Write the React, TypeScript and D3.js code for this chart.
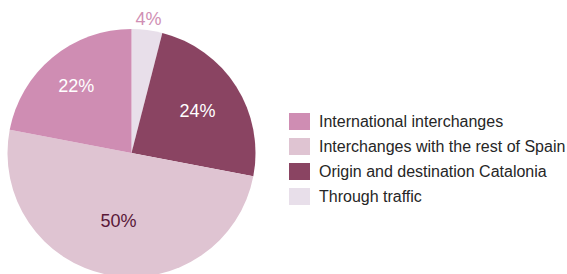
import React, { useEffect, useRef } from 'react';
import * as d3 from 'd3';

// slices in drawing order (clockwise from 12 o'clock)
const sliceNames = [
  'Through traffic',
  'Origin and destination Catalonia',
  'Interchanges with the rest of Spain',
  'International interchanges',
];
const sliceValues = [4, 24, 50, 22];
const sliceColors = ['#e8dfea', '#8a4462', '#dfc4d2', '#cf8db3'];
const labelColors = ['#d08fb4', '#ffffff', '#5a1838', '#ffffff'];
const labelRadius = [1.09, 0.63, 0.56, 0.7];

// legend order
const legendNames = [
  'International interchanges',
  'Interchanges with the rest of Spain',
  'Origin and destination Catalonia',
  'Through traffic',
];

const width = 567;
const height = 274;

const App = () => {
  const svgRef = useRef<SVGSVGElement>(null);

  useEffect(() => {
    const svg = d3.select(svgRef.current);
    svg.selectAll('*').remove();

    const cx = 131.5;
    const cy = 153;
    const r = 124;

    const data = sliceValues.map((v, i) => ({ name: sliceNames[i], value: v, i }));
    const pie = d3.pie<any>().value(d => d.value).sort(null);
    const arcs = pie(data);
    const arc = d3.arc<any>().innerRadius(0).outerRadius(r);

    const g = svg.append('g').attr('transform', `translate(${cx},${cy})`);

    g.selectAll('path')
      .data(arcs)
      .enter()
      .append('path')
      .attr('d', arc)
      .attr('fill', d => sliceColors[d.data.i]);

    g.selectAll('text')
      .data(arcs)
      .enter()
      .append('text')
      .attr('transform', d => {
        const la = d3.arc<any>().innerRadius(0).outerRadius(2 * r * labelRadius[d.data.i]);
        const [x, y] = la.centroid(d);
        return `translate(${x},${y})`;
      })
      .attr('text-anchor', 'middle')
      .attr('dominant-baseline', 'central')
      .style('font-family', 'Arial, "Liberation Sans", sans-serif')
      .style('font-size', '18px')
      .attr('fill', d => labelColors[d.data.i])
      .text(d => `${d.data.value}%`);

    // legend
    const color = d3.scaleOrdinal<string, string>().domain(sliceNames).range(sliceColors);
    const y = d3.scaleBand().domain(legendNames).range([113, 213]);
    const leg = svg.append('g');
    legendNames.forEach(name => {
      const row = leg.append('g').attr('transform', `translate(289,${y(name)})`);
      row.append('rect')
        .attr('width', 21)
        .attr('height', 17)
        .attr('fill', color(name));
      row.append('text')
        .attr('x', 30)
        .attr('y', 8.5)
        .attr('dominant-baseline', 'central')
        .style('font-family', 'Arial, "Liberation Sans", sans-serif')
        .style('font-size', '16px')
        .attr('fill', '#262626')
        .text(name);
    });
  }, []);

  return (
    <svg
      ref={svgRef}
      width={width}
      height={height}
      style={{ position: 'absolute', left: 0, top: 0, background: '#fff' }}
    />
  );
};

export default App;
